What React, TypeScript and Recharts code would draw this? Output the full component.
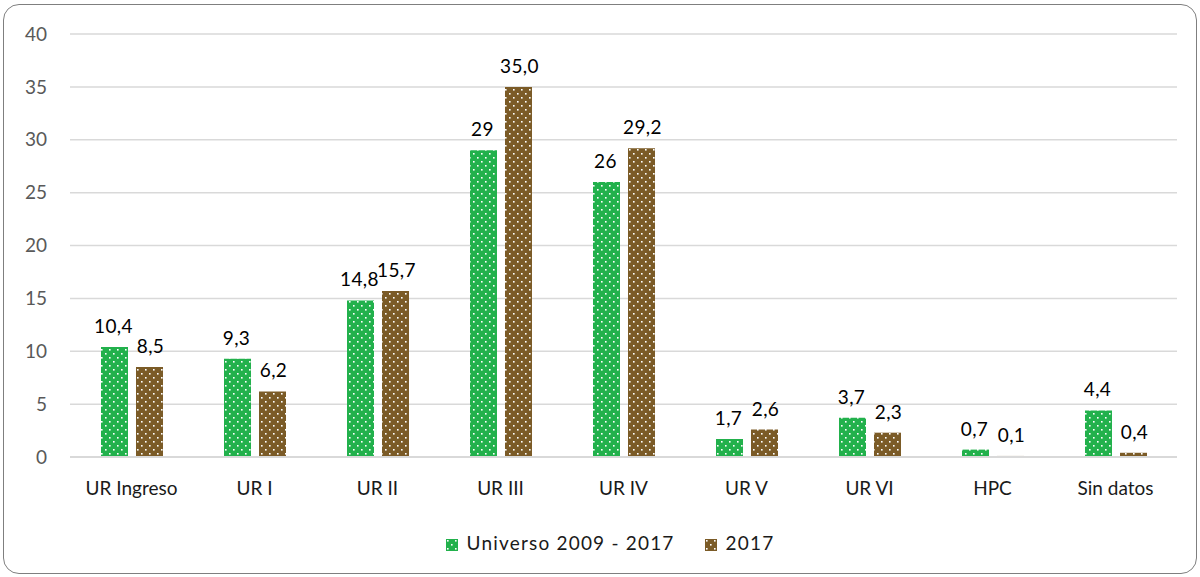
import React from "react";
import {
  BarChart,
  Bar,
  XAxis,
  YAxis,
  CartesianGrid,
  Legend,
  LabelList,
} from "recharts";

const categories = [
  "UR Ingreso",
  "UR I",
  "UR II",
  "UR III",
  "UR IV",
  "UR V",
  "UR VI",
  "HPC",
  "Sin datos",
];
const universo = [10.4, 9.3, 14.8, 29, 26, 1.7, 3.7, 0.7, 4.4];
const y2017 = [8.5, 6.2, 15.7, 35.0, 29.2, 2.6, 2.3, 0.1, 0.4];
const yTicks = [0, 5, 10, 15, 20, 25, 30, 35, 40];

const GREEN = "#22b14c";
const BROWN = "#7b5b27";
const FONT = "Lato, 'Open Sans', sans-serif";

const data = categories.map((name, i) => ({
  name,
  universo: universo[i],
  y2017: y2017[i],
}));

const fmtPlain = (v: any) => String(v).replace(".", ",");
const fmtFixed = (v: any) => Number(v).toFixed(1).replace(".", ",");

const Swatch = ({ id }: { id: string }) => (
  <svg width={12} height={12} style={{ marginRight: 9, verticalAlign: "-1px" }}>
    <rect width={12} height={12} fill={`url(#${id})`} />
  </svg>
);

const LegendContent = () => (
  <div
    style={{
      display: "flex",
      justifyContent: "center",
      paddingLeft: 20,
      fontFamily: FONT,
      fontSize: 19,
      letterSpacing: 1.2,
      color: "#1a1a1a",
    }}
  >
    <span style={{ marginRight: 30 }}>
      <Swatch id="dotGreen" />
      Universo 2009 - 2017
    </span>
    <span>
      <Swatch id="dotBrown" />
      2017
    </span>
  </div>
);

export default function App() {
  return (
    <div style={{ position: "absolute", left: 0, top: 0, width: 1200, height: 577, background: "#fff" }}>
      <div
        style={{
          position: "absolute",
          left: 3,
          top: 4,
          width: 1194,
          height: 570,
          border: "1.5px solid #7f7f7f",
          borderRadius: 16,
          boxSizing: "border-box",
        }}
      />
      <div style={{ position: "absolute", left: 0, top: 0 }}>
        <BarChart
          width={1200}
          height={577}
          data={data}
          margin={{ top: 34, right: 23, bottom: 60, left: 0 }}
          barSize={27}
          barGap={8}
        >
          <defs>
            <pattern id="dotGreen" width={8} height={8} patternUnits="userSpaceOnUse">
              <rect width={8} height={8} fill={GREEN} />
              <rect x={1} y={1} width={1.6} height={1.6} fill="#fff" />
              <rect x={5} y={5} width={1.6} height={1.6} fill="#fff" />
            </pattern>
            <pattern id="dotBrown" width={8} height={8} patternUnits="userSpaceOnUse">
              <rect width={8} height={8} fill={BROWN} />
              <rect x={1} y={1} width={1.6} height={1.6} fill="#fff" />
              <rect x={5} y={5} width={1.6} height={1.6} fill="#fff" />
            </pattern>
          </defs>
          <CartesianGrid vertical={false} stroke="#d9d9d9" strokeWidth={1.5} />
          <XAxis
            dataKey="name"
            height={60}
            tickSize={0}
            tickMargin={25}
            axisLine={{ stroke: "#d9d9d9", strokeWidth: 2 }}
            tick={{ fill: "#1a1a1a", fontSize: 19, fontFamily: FONT }}
            interval={0}
          />
          <YAxis
            width={70}
            domain={[0, 40]}
            ticks={yTicks}
            tickSize={0}
            tickMargin={23}
            axisLine={false}
            tick={{ fill: "#595959", fontSize: 19, fontFamily: FONT }}
          />
          <Legend
            layout="horizontal"
            align="center"
            verticalAlign="middle"
            wrapperStyle={{ top: 531, left: 0, width: 1200 }}
            content={<LegendContent />}
          />
          <Bar dataKey="universo" fill="url(#dotGreen)" isAnimationActive={false}>
            <LabelList
              dataKey="universo"
              position="top"
              offset={14}
              formatter={fmtPlain}
              fill="#000"
              fontSize={19}
              fontFamily={FONT}
              dx={-1}
              style={{ letterSpacing: 0.4 }}
            />
          </Bar>
          <Bar dataKey="y2017" fill="url(#dotBrown)" isAnimationActive={false}>
            <LabelList
              dataKey="y2017"
              position="top"
              offset={14}
              formatter={fmtFixed}
              fill="#000"
              fontSize={19}
              fontFamily={FONT}
              dx={1}
              style={{ letterSpacing: 0.4 }}
            />
          </Bar>
        </BarChart>
      </div>
    </div>
  );
}
